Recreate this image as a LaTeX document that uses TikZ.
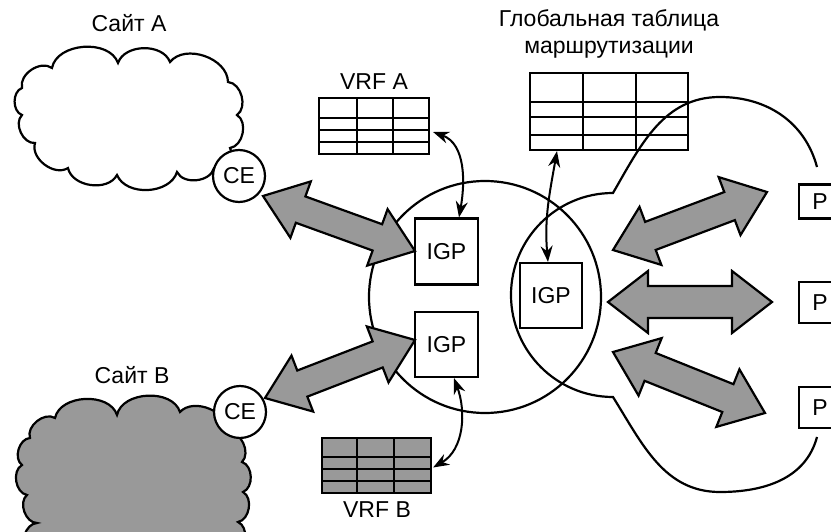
\documentclass[tikz,border=0pt]{standalone}
\usepackage{fontspec}
\setmainfont{Liberation Sans}
\usetikzlibrary{calc,arrows.meta}
\definecolor{shade}{gray}{0.6}
\newcommand{\fathl}{40pt}
% #1 name, #2 from, #3 to, #4 shaft half width, #5 head half width
\newcommand{\fatarrow}[5]{%
  \coordinate (#1a) at ($(#2)!\fathl!(#3)$);
  \coordinate (#1b) at ($(#3)!\fathl!(#2)$);
  \filldraw[fatstyle] (#2) -- ($(#1a)!#5!90:(#3)$) -- ($(#1a)!#4!90:(#3)$)
    -- ($(#1b)!#4!-90:(#2)$) -- ($(#1b)!#5!-90:(#2)$) -- (#3)
    -- ($(#1b)!#5!90:(#2)$) -- ($(#1b)!#4!90:(#2)$)
    -- ($(#1a)!#4!-90:(#3)$) -- ($(#1a)!#5!-90:(#3)$) -- cycle;}
\begin{document}
\begin{tikzpicture}[x=1pt,y=-1pt,line width=2.2pt,
  font=\fontsize{23}{27}\selectfont,
  fatstyle/.style={draw=black,fill=shade,line width=2.2pt,line join=miter},
  igp/.style={draw,fill=white,minimum width=63pt,minimum height=66pt,inner sep=0pt},
  ce/.style={draw,fill=white,circle,minimum size=52pt,inner sep=0pt},
  pbox/.style={draw,fill=white,minimum width=42pt,minimum height=38pt,inner sep=0pt},
  tbl/.style={draw,inner sep=0pt,line width=2.2pt},
  thinarrow/.style={line width=2pt,{Stealth[length=16pt,width=12pt]}-{Stealth[length=16pt,width=12pt]}},
  cloudline/.style={line width=2.2pt},
  lbl/.style={inner sep=0pt}]
\useasboundingbox (0,0) rectangle (831,532);
\clip (0,0) rectangle (831,532);

% clouds
\draw[cloudline,fill=white] (22,88) to[bend left=70] (52,68) to[bend left=75] (118,63)
  to[bend left=70] (170,62) to[bend left=70] (228,82) to[bend left=70] (237,115)
  to[bend left=70] (230,148) to[bend left=70] (214,168) to[bend left=70] (177,172)
  to[bend left=70] (117,175) to[bend left=70] (68,168) to[bend left=70] (35,143)
  to[bend left=70] (22,115) to[bend left=70] (22,88) -- cycle;
\draw[cloudline,fill=shade] (30,438) to[bend left=70] (55,418) to[bend left=75] (117,415)
  to[bend left=75] (180,412) to[bend left=70] (228,432) to[bend left=70] (242,462)
  to[bend left=70] (243,492) to[bend left=70] (238,522) to[bend left=70] (236,552)
  -- (28,552) to[bend left=70] (37,523) to[bend left=70] (27,495)
  to[bend left=70] (22,465) to[bend left=70] (30,438) -- cycle;

% central circle
\node[draw,circle,minimum size=232pt,inner sep=0pt] (pe) at (485,297) {};

% provider network boundary
\coordinate (bt) at (817,167);
\coordinate (bb) at (817,437);
\draw (bt) to[out=105,in=0] (720,97) to[out=180,in=60] (613,193)
  arc[start angle=90,end angle=270,radius=102pt]
  to[out=-58,in=180] (720,492) to[out=0,in=-105] (bb);

% tables
\node[tbl,minimum width=110pt,minimum height=56pt] (vrfa) at (374,126) {};
\draw (319,118) -- (429,118) (319,130) -- (429,130) (319,142) -- (429,142)
  (357,98) -- (357,154) (393,98) -- (393,154);
\node[tbl,fill=shade,minimum width=109pt,minimum height=55pt] (vrfb) at (376.5,465.5) {};
\draw (322,457) -- (431,457) (322,469) -- (431,469) (322,481) -- (431,481)
  (357,438) -- (357,493) (394,438) -- (394,493);
\node[tbl,minimum width=158pt,minimum height=77pt] (gtab) at (609,111.5) {};
\draw (530,102) -- (688,102) (530,117) -- (688,117) (530,135) -- (688,135)
  (583,73) -- (583,150) (636,73) -- (636,150);

% IGP boxes
\node[igp] (igp1) at (446.5,251.5) {IGP};
\node[igp,minimum height=65pt] (igp2) at (446.5,344.5) {IGP};
\node[igp,minimum width=62pt,minimum height=65pt] (igp3) at (551,295.5) {IGP};

% CE routers
\node[ce] (cea) at (239,176) {CE};
\node[ce] (ceb) at (240,412) {CE};

% P routers
\node[pbox,minimum height=34pt] (p1) at (820,201.5) {P};
\node[pbox,minimum height=41pt] (p2) at (820,302.5) {P};
\node[pbox,minimum height=41pt] (p3) at (820,407.5) {P};

% fat arrows
\coordinate (f1s) at (263,196); \coordinate (f1e) at (415,251);
\coordinate (f2s) at (265,398); \coordinate (f2e) at (415,340);
\coordinate (f3s) at (613,250); \coordinate (f3e) at (767,192);
\coordinate (f4s) at (608,302); \coordinate (f4e) at (772,302);
\coordinate (f5s) at (613,352); \coordinate (f5e) at (765,413);
\fatarrow{fa}{f1s}{f1e}{14pt}{30pt}
\fatarrow{fb}{f2s}{f2e}{14pt}{30pt}
\fatarrow{fc}{f3s}{f3e}{15pt}{31pt}
\fatarrow{fd}{f4s}{f4e}{16pt}{31pt}
\fatarrow{fe}{f5s}{f5e}{15pt}{31pt}

% thin arrows
\draw[thinarrow] ($(vrfa.east)+(3,6)$) to[out=-20,in=80] (igp1.north -| 459,0);
\draw[thinarrow] (gtab.south -| 557,0) to[out=-100,in=95] (igp3.north -| 548,0);
\draw[thinarrow] (igp2.south -| 454,0) to[out=-70,in=30] ($(vrfb.east)+(1,2)$);

% labels
\node[lbl] (lsa) at (129,23) {Сайт А};
\node[lbl] (lsb) at (132,375) {Сайт В};
\node[lbl] (lva) at (374,82) {VRF A};
\node[lbl] (lvb) at (377,510) {VRF B};
\node[lbl,align=center] (lgt) at (609,34) {Глобальная таблица\\маршрутизации};
\end{tikzpicture}
\end{document}
